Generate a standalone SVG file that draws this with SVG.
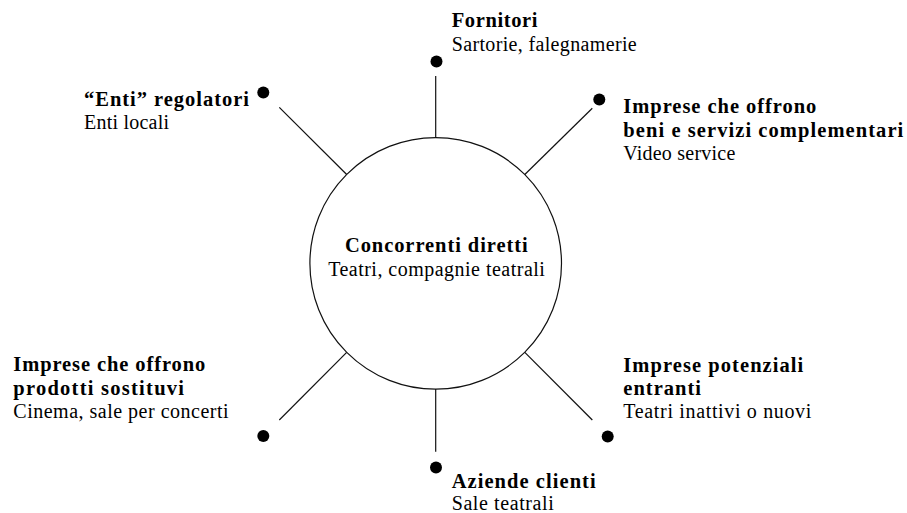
<svg xmlns="http://www.w3.org/2000/svg" width="907" height="513" viewBox="0 0 907 513">
<style>
text{font-family:"Liberation Serif","Times New Roman",serif;font-size:20px;fill:#000}
.b{font-weight:bold;font-size:20.5px}
.ln{stroke:#111;stroke-width:1.2;fill:none}
.dot{fill:#000}
</style>
<rect width="907" height="513" fill="#fff"/>
<g id="connectors">
<line class="ln" x1="435.7" y1="137.5" x2="435.7" y2="76"/>
<line class="ln" x1="346.7" y1="174.5" x2="279.3" y2="107.3"/>
<line class="ln" x1="524.8" y1="174.5" x2="592.3" y2="108.3"/>
<line class="ln" x1="346.7" y1="352.4" x2="279.3" y2="420"/>
<line class="ln" x1="435.7" y1="389" x2="435.7" y2="451.7"/>
<line class="ln" x1="524.8" y1="352.4" x2="592.3" y2="420"/>
</g>
<g id="center">
<circle class="ln" cx="435.7" cy="263.4" r="125.8"/>
<text class="b" x="436.3" y="252" text-anchor="middle" textLength="182.7" lengthAdjust="spacing">Concorrenti diretti</text>
<text x="436.5" y="276" text-anchor="middle" textLength="216.7" lengthAdjust="spacing">Teatri, compagnie teatrali</text>
</g>
<g id="fornitori">
<circle class="dot" cx="436.5" cy="61.5" r="6"/>
<text class="b" x="451.7" y="26.5" textLength="85.7" lengthAdjust="spacing">Fornitori</text>
<text x="451.7" y="50.5" textLength="185" lengthAdjust="spacing">Sartorie, falegnamerie</text>
</g>
<g id="enti">
<circle class="dot" cx="263.3" cy="92.5" r="6"/>
<text class="b" x="84" y="106" textLength="165" lengthAdjust="spacing">“Enti” regolatori</text>
<text x="84" y="129" textLength="85" lengthAdjust="spacing">Enti locali</text>
</g>
<g id="complementari">
<circle class="dot" cx="599.3" cy="99.5" r="6"/>
<text class="b" x="623.3" y="113" textLength="193" lengthAdjust="spacing">Imprese che offrono</text>
<text class="b" x="623.3" y="136.5" textLength="280" lengthAdjust="spacing">beni e servizi complementari</text>
<text x="623.3" y="160" textLength="112" lengthAdjust="spacing">Video service</text>
</g>
<g id="sostitutivi">
<circle class="dot" cx="263.3" cy="436" r="6"/>
<text class="b" x="13.3" y="371" textLength="192" lengthAdjust="spacing">Imprese che offrono</text>
<text class="b" x="13.3" y="394.5" textLength="170.7" lengthAdjust="spacing">prodotti sostituvi</text>
<text x="13.3" y="418" textLength="215.3" lengthAdjust="spacing">Cinema, sale per concerti</text>
</g>
<g id="entranti">
<circle class="dot" cx="607.7" cy="436.5" r="6"/>
<text class="b" x="623.3" y="371.5" textLength="180" lengthAdjust="spacing">Imprese potenziali</text>
<text class="b" x="623.3" y="395" textLength="77.7" lengthAdjust="spacing">entranti</text>
<text x="623.3" y="418" textLength="188" lengthAdjust="spacing">Teatri inattivi o nuovi</text>
</g>
<g id="clienti">
<circle class="dot" cx="436" cy="467.5" r="6"/>
<text class="b" x="451.7" y="487.5" textLength="144" lengthAdjust="spacing">Aziende clienti</text>
<text x="451.7" y="509.5" textLength="102" lengthAdjust="spacing">Sale teatrali</text>
</g>
</svg>
